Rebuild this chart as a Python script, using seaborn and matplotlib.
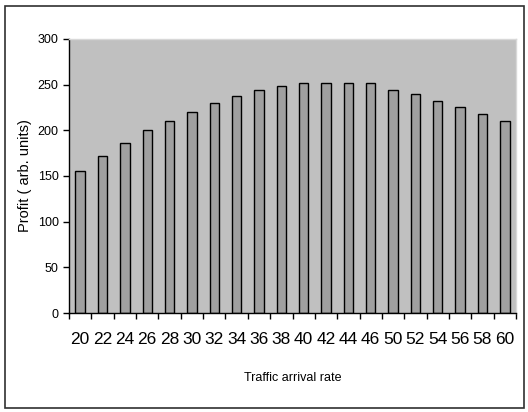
import numpy as np
import pandas as pd
import seaborn as sns
import matplotlib.pyplot as plt
from matplotlib.patches import Rectangle

# traffic arrival rate (note: 48 is not in the data) and profit
rates = [20, 22, 24, 26, 28, 30, 32, 34, 36, 38, 40, 42, 44, 46, 50, 52, 54, 56, 58, 60]
profit = [155, 172, 186, 200, 210, 220, 230, 238, 244, 248, 252, 252, 252, 252, 244, 240, 232, 226, 218, 210]

df = pd.DataFrame({'rate': [str(r) for r in rates], 'profit': profit})

sns.set_style('white')
plt.rcParams['font.family'] = ['Liberation Sans Narrow', 'Liberation Sans', 'DejaVu Sans']
plt.rcParams['text.color'] = 'black'
plt.rcParams['axes.labelcolor'] = 'black'
plt.rcParams['xtick.color'] = 'black'
plt.rcParams['ytick.color'] = 'black'

fig = plt.figure(figsize=(5.28, 4.12), dpi=100)
ax = fig.add_axes([69 / 528, 1 - 313 / 412, (516 - 69) / 528, (313 - 39) / 412])

sns.barplot(data=df, x='rate', y='profit', color='#a0a0a0', width=0.42,
            edgecolor='black', linewidth=1.0, saturation=1, ax=ax)
ax.set_facecolor('#c0c0c0')
ax.set_ylim(0, 300)
ax.set_xlim(-0.5, len(rates) - 0.5)
ax.set_yticks(range(0, 301, 50))

# category ticks between bars, labels centred under bars
ax.set_xticks(np.arange(-0.5, len(rates), 1.0), minor=False)
ax.set_xticklabels([])
ax.set_xticks(np.arange(len(rates)), minor=True)
ax.set_xticklabels(df['rate'], minor=True, fontsize=12.5)
ax.tick_params(axis='x', which='minor', length=0, pad=14)
ax.tick_params(axis='x', which='major', length=4, width=1, direction='out', bottom=True)
ax.tick_params(axis='y', length=4, width=1, direction='out', left=True, labelsize=9)

for s in ['left', 'bottom']:
    ax.spines[s].set_color('black')
    ax.spines[s].set_linewidth(1)
for s in ['top', 'right']:
    ax.spines[s].set_color('#d8d8d8')
    ax.spines[s].set_linewidth(1)

ax.set_xlabel('Traffic arrival rate', fontsize=9, labelpad=18)
ax.set_ylabel('Profit ( arb. units)', fontsize=10.5, labelpad=4)

# outer chart border
fig.patches.append(Rectangle((5 / 528, 4 / 412), 519 / 528, 402 / 412, transform=fig.transFigure,
                             fill=False, edgecolor='#303030', linewidth=1.2))

fig.savefig('out.png', dpi=100)
